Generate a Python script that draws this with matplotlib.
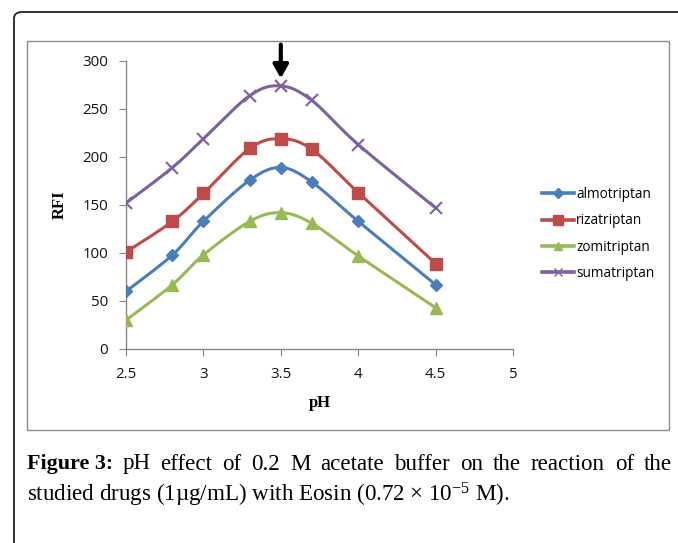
import numpy as np
import matplotlib
matplotlib.use("Agg")
import matplotlib.pyplot as plt
from matplotlib.patches import FancyBboxPatch, Rectangle

plt.rcParams["mathtext.fontset"] = "custom"
plt.rcParams["mathtext.rm"] = "Liberation Serif"
plt.rcParams["mathtext.it"] = "Liberation Serif:italic"
plt.rcParams["mathtext.bf"] = "Liberation Serif:bold"

ph = [2.5, 2.8, 3.0, 3.3, 3.5, 3.7, 4.0, 4.5]
almotriptan = [60, 98, 133, 176, 189, 174, 133, 67]
rizatriptan = [101, 133, 162, 209, 219, 208, 163, 89]
zomitriptan = [30, 67, 98, 133, 142, 131, 97, 43]
sumatriptan = [152, 189, 219, 264, 274, 259, 213, 147]
names = ["almotriptan", "rizatriptan", "zomitriptan", "sumatriptan"]
colors = ["#4a7ebb", "#be4b48", "#98b954", "#7d60a0"]
markers = ["D", "s", "^", "x"]
msizes = [6, 9, 8, 8]
xticks = [2.5, 3, 3.5, 4, 4.5, 5]
yticks = [0, 50, 100, 150, 200, 250, 300]


def smooth(x, y, n=30):
    x = np.asarray(x, float); y = np.asarray(y, float)
    px = np.concatenate([[x[0]], x, [x[-1]]])
    py = np.concatenate([[y[0]], y, [y[-1]]])
    xs, ys = [], []
    for i in range(1, len(px) - 2):
        t = np.linspace(0, 1, n)
        p0x, p1x, p2x, p3x = px[i-1], px[i], px[i+1], px[i+2]
        p0y, p1y, p2y, p3y = py[i-1], py[i], py[i+1], py[i+2]
        c1x = p1x + (p2x - p0x) / 6; c1y = p1y + (p2y - p0y) / 6
        c2x = p2x - (p3x - p1x) / 6; c2y = p2y - (p3y - p1y) / 6
        bx = (1-t)**3*p1x + 3*(1-t)**2*t*c1x + 3*(1-t)*t**2*c2x + t**3*p2x
        by = (1-t)**3*p1y + 3*(1-t)**2*t*c1y + 3*(1-t)*t**2*c2y + t**3*p2y
        xs.append(bx); ys.append(by)
    return np.concatenate(xs), np.concatenate(ys)


W, H = 678, 543
fig = plt.figure(figsize=(W/100, H/100), dpi=100)

fig.patches.append(FancyBboxPatch((14/W, 0 - 0.05), 1.0, 1 - 12/H + 0.05,
                                  boxstyle="round,pad=0,rounding_size=0.012",
                                  transform=fig.transFigure, fill=False,
                                  edgecolor="#222222", linewidth=1.3))
fig.patches.append(Rectangle((27/W, 1 - 430/H), (669-27)/W, (430-41)/H,
                             transform=fig.transFigure, fill=False,
                             edgecolor="#8c8c8c", linewidth=1.0))

ax = fig.add_axes([126/W, 1 - 349/H, (513-126)/W, (349-61)/H])
series = [almotriptan, rizatriptan, zomitriptan, sumatriptan]
for name, vals, c, m, ms in zip(names, series, colors, markers, msizes):
    sx, sy = smooth(ph, vals)
    ax.plot(sx, sy, color=c, lw=2.2, zorder=2)
    ax.plot(ph, vals, linestyle="none", marker=m, color=c, ms=ms,
            mew=1.5 if m == "x" else 1, zorder=3)
    ax.plot([], [], color=c, lw=2.6, marker=m, ms=ms*0.8, label=name)

ax.set_xlim(2.5, 5)
ax.set_ylim(0, 300)
ax.set_xticks(xticks)
ax.set_xticklabels(["2.5", "3", "3.5", "4", "4.5", "5"])
ax.set_yticks(yticks)
for s in ["top", "right"]:
    ax.spines[s].set_visible(False)
for s in ["left", "bottom"]:
    ax.spines[s].set_color("#868686")
    ax.spines[s].set_linewidth(1)
ax.tick_params(axis="both", direction="out", length=5, color="#868686",
               labelsize=10.8, labelcolor="#111111")
for lab in ax.get_xticklabels() + ax.get_yticklabels():
    lab.set_fontfamily("Open Sans")
ax.tick_params(axis="x", pad=8)
ax.tick_params(axis="y", pad=8)
ax.patch.set_alpha(0)

ax.set_xlabel("pH", fontfamily="Liberation Serif", fontweight="bold",
              fontsize=12, labelpad=9)
ax.set_ylabel("RFI", fontfamily="Liberation Serif", fontweight="bold",
              fontsize=12, labelpad=10)

ax.annotate("", xy=(3.5, 279), xytext=(3.5, 320),
            arrowprops=dict(arrowstyle="-|>,head_length=0.8,head_width=0.45",
                            color="black", lw=3),
            annotation_clip=False)

leg = fig.legend(loc="upper left", bbox_to_anchor=(530/W, 1 - 175/H),
                 frameon=False, handlelength=2.3, handletextpad=0.2,
                 labelspacing=0.82, prop={"family": "Open Sans", "size": 9.8})

# caption (first line justified)
fs = 16.6
y1 = 1 - 464/H
words = ["pH", "effect", "of", "0.2", "M", "acetate", "buffer", "on", "the",
         "reaction", "of", "the"]
renderer = fig.canvas.get_renderer()
t0 = fig.text(27/W, y1, "Figure 3:", fontfamily="Liberation Serif",
              fontweight="bold", fontsize=15.8, va="center", ha="left")
x_start = t0.get_window_extent(renderer).x1 / W + 9/W
x_end = 672/W
wtexts = [fig.text(0, y1, w, fontfamily="Liberation Serif", fontsize=fs,
                   va="center", ha="left") for w in words]
widths = [t.get_window_extent(renderer).width / W for t in wtexts]
gap = (x_end - x_start - sum(widths)) / (len(words) - 1)
xc = x_start
for t, wd in zip(wtexts, widths):
    t.set_x(xc)
    xc += wd + gap
fig.text(27/W, 1 - 495/H,
         "studied drugs (1µg/mL) with Eosin (0.72 × 10$^{\\mathrm{-5}}$ M).",
         fontfamily="Liberation Serif", fontsize=fs, va="center", ha="left")

fig.savefig("out.png", dpi=100)
